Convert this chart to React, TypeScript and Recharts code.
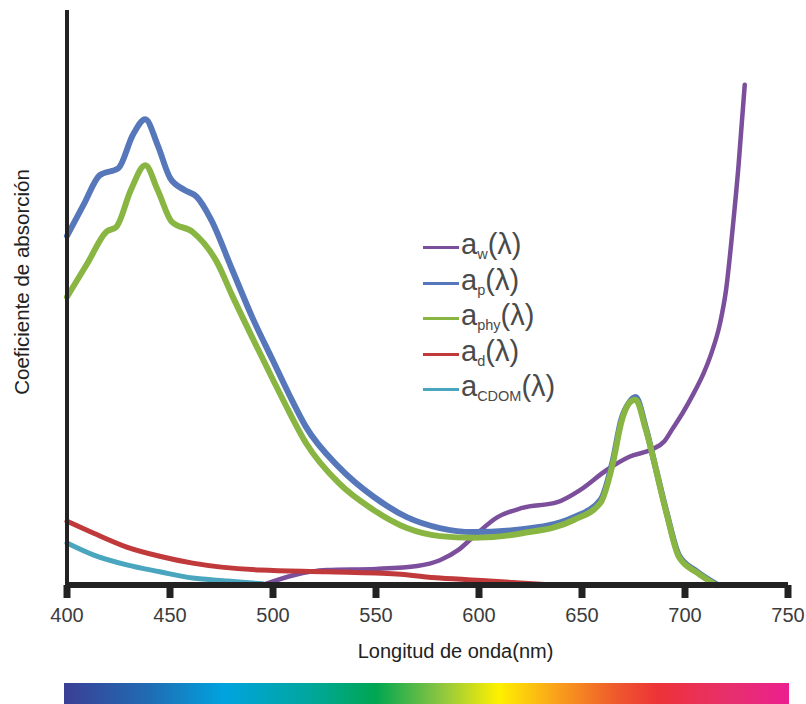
import React from "react";
import { LineChart, Line, XAxis, YAxis, Legend } from "recharts";

// wavelength (nm) / relative absorption, one pair of arrays per component
const awWl = [495, 510, 526, 550, 570, 581, 590, 597, 609, 621, 638, 649, 662, 673, 684, 690, 694, 699, 704, 709, 713, 717, 720, 723, 726, 729];
const awVal = [0, 0.017, 0.026, 0.028, 0.033, 0.043, 0.061, 0.083, 0.118, 0.134, 0.144, 0.165, 0.2, 0.223, 0.236, 0.25, 0.272, 0.3, 0.332, 0.368, 0.405, 0.455, 0.515, 0.615, 0.73, 0.87];

const apWl = [400, 408, 416, 425, 432, 438, 444, 450, 457, 463, 470, 480, 490, 500, 508, 516, 532, 549, 565, 581, 597, 621, 646, 659, 665, 669, 673, 676, 681, 686, 691, 697, 706, 716];
const apVal = [0.607, 0.661, 0.713, 0.725, 0.783, 0.81, 0.765, 0.708, 0.687, 0.675, 0.635, 0.55, 0.465, 0.39, 0.33, 0.275, 0.205, 0.153, 0.118, 0.099, 0.092, 0.097, 0.118, 0.148, 0.217, 0.287, 0.318, 0.327, 0.273, 0.2, 0.127, 0.052, 0.023, 0];

const aphyWl = [400, 410, 419, 424, 431, 438, 444, 451, 461, 473, 480, 490, 500, 508, 516, 532, 549, 565, 581, 597, 621, 646, 659, 665, 669, 673, 676, 681, 691, 697, 706, 715];
const aphyVal = [0.501, 0.56, 0.614, 0.623, 0.687, 0.73, 0.687, 0.631, 0.614, 0.56, 0.505, 0.43, 0.357, 0.3, 0.247, 0.177, 0.13, 0.099, 0.085, 0.082, 0.09, 0.113, 0.143, 0.212, 0.282, 0.317, 0.322, 0.27, 0.125, 0.049, 0.021, 0];

const adWl = [400, 413, 429, 445, 461, 494, 526, 560, 581, 605, 636];
const adVal = [0.111, 0.09, 0.066, 0.05, 0.038, 0.026, 0.023, 0.019, 0.012, 0.007, 0];

const acdomWl = [400, 413, 429, 445, 461, 478, 495];
const acdomVal = [0.073, 0.052, 0.035, 0.023, 0.012, 0.007, 0.002];

const xTicks = [400, 450, 500, 550, 600, 650, 700, 750];
const xTitle = "Longitud de onda(nm)";
const yTitle = "Coeficiente de absorción";

const toPoints = (wl: number[], val: number[]) => wl.map((w, i) => ({ wl: w, v: val[i] }));

const series = [
  { sub: "w", color: "#7b4f9c", width: 4.5, data: toPoints(awWl, awVal) },
  { sub: "p", color: "#5677b9", width: 6, data: toPoints(apWl, apVal) },
  { sub: "phy", color: "#89b542", width: 6, data: toPoints(aphyWl, aphyVal) },
  { sub: "d", color: "#c0393b", width: 5, data: toPoints(adWl, adVal) },
  { sub: "CDOM", color: "#4aa5bf", width: 5, data: toPoints(acdomWl, acdomVal) },
];

const FONT = '"Liberation Sans", Arial, sans-serif';

function LegendBox() {
  return (
    <div style={{ fontFamily: FONT, color: "#4a4a4a" }}>
      {series.map((s) => (
        <div key={s.sub} style={{ display: "flex", alignItems: "center", height: 35.5 }}>
          <span style={{ display: "inline-block", width: 36, height: 3, background: s.color, marginRight: 2, marginTop: 6 }} />
          <span style={{ fontSize: 29, lineHeight: "35.5px", whiteSpace: "nowrap" }}>
            a<span style={{ fontSize: 14.5, verticalAlign: "-5px", lineHeight: 0 }}>{s.sub}</span>(λ)
          </span>
        </div>
      ))}
    </div>
  );
}

function YTitle() {
  return (
    <text x={21} y={282} transform="rotate(-90 21 282)" textAnchor="middle" dominantBaseline="central" fill="#222" fontSize={20.5} fontFamily={FONT}>
      {yTitle}
    </text>
  );
}

export default function App() {
  return (
    <div style={{ position: "absolute", left: 0, top: 0, width: 806, height: 704, background: "#fff", fontFamily: FONT }}>
      <LineChart width={806} height={680} margin={{ top: 10, right: 18, left: 0, bottom: 0 }}>
        <XAxis
          dataKey="wl"
          type="number"
          domain={[400, 750]}
          ticks={xTicks}
          allowDuplicatedCategory={false}
          height={95}
          axisLine={{ stroke: "#222", strokeWidth: 6 }}
          tickLine={{ stroke: "#222", strokeWidth: 7 }}
          tickSize={13}
          tickMargin={10}
          tick={{ fill: "#3c3c3c", fontSize: 20, fontFamily: FONT }}
          label={{ value: xTitle, position: "insideBottom", offset: 22, dx: 28, fill: "#222", fontSize: 20, fontFamily: FONT }}
        />
        <YAxis
          type="number"
          domain={[0, 1]}
          width={67}
          tick={false}
          tickLine={false}
          axisLine={{ stroke: "#222", strokeWidth: 4 }}
          label={{ content: () => <YTitle /> }}
        />
        <Legend
          layout="vertical"
          align="center"
          verticalAlign="middle"
          wrapperStyle={{ left: 423, top: 227, width: 180 }}
          content={() => <LegendBox />}
        />
        {series.map((s) => (
          <Line
            key={s.sub}
            data={s.data}
            dataKey="v"
            name={s.sub}
            type="monotone"
            stroke={s.color}
            strokeWidth={s.width}
            strokeLinecap="round"
            dot={false}
            activeDot={false}
            isAnimationActive={false}
          />
        ))}
      </LineChart>
      <div
        style={{
          position: "absolute",
          left: 64,
          top: 683,
          width: 725,
          height: 21,
          background:
            "linear-gradient(to right, #3b3f95 0%, #1f6db4 12%, #00a3df 22%, #00a79c 34%, #00a651 43%, #8dc640 52%, #fff100 60%, #f9a01b 68%, #ef5a2c 76%, #ed3238 82%, #e72f6e 92%, #ec1f8e 100%)",
        }}
      />
    </div>
  );
}
